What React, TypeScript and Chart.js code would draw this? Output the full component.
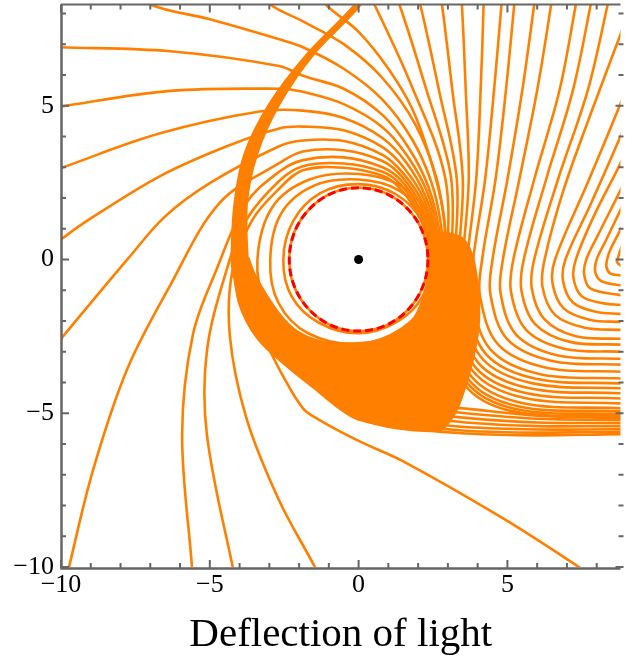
import React, { useEffect, useRef } from 'react';
import { Chart, registerables } from 'chart.js';

Chart.register(...registerables);

type Pt = [number, number];

const X_TICKS = [-10, -5, 0, 5];
const Y_TICKS = [-10, -5, 0, 5];
const X_MIN = -10;
const X_MAX = 8.8;
const Y_MIN = -10;
const Y_MAX = 8.29;
const HORIZON_R = 2.33;
const CENTER: Pt[] = [[0, 0]];
const TITLE = 'Deflection of light';

// arcs entering through the right edge above the hole, turning, leaving through it below
const rightEdgeArcs: Pt[][] = [
  [[9.0, 0.75], [8.8, 0.32], [8.7, 0.0], [8.68, -0.08], [8.75, -0.16], [8.8, -0.19], [9.2, -0.3]],
  [[9.05, 1.5], [8.8, 0.97], [8.45, 0.3], [8.35, 0], [8.33, -0.25], [8.45, -0.45], [8.8, -0.52], [9.2, -0.57]],
  [[9.1, 2.2], [8.8, 1.61], [8.3, 0.6], [8.0, 0], [7.95, -0.4], [8.15, -0.7], [8.8, -0.84], [9.2, -0.88]],
  [[9.1, 2.9], [8.8, 2.26], [8.1, 0.9], [7.65, 0], [7.58, -0.5], [7.8, -0.95], [8.8, -1.16], [9.2, -1.2]],
  [[9.1, 3.8], [8.8, 3.13], [7.9, 1.4], [7.3, 0], [7.22, -0.6], [7.5, -1.2], [8.2, -1.42], [8.8, -1.48], [9.2, -1.51]],
  [[9.05, 4.6], [8.8, 4.0], [7.8, 1.8], [6.95, 0], [6.87, -0.7], [7.2, -1.4], [8.0, -1.71], [8.8, -1.77], [9.2, -1.8]],
  [[9.05, 5.7], [8.8, 5.06], [7.7, 2.5], [6.6, 0], [6.52, -0.8], [6.9, -1.6], [7.8, -1.97], [8.8, -2.03], [9.2, -2.06]],
  [[9.0, 7.9], [8.8, 7.32], [7.9, 5.0], [6.9, 2.3], [6.25, 0], [6.18, -0.9], [6.6, -1.8], [7.6, -2.22], [8.8, -2.29], [9.2, -2.32]],
];

// arcs entering through the top edge, passing right of the hole, leaving through the right edge
const topArcs: Pt[][] = [
  [[8.45, 8.7], [8.37, 8.29], [7.7, 5.5], [6.7, 2.6], [5.9, 0], [5.82, -0.95], [6.25, -1.95], [7.3, -2.5], [8.8, -2.58], [9.2, -2.6]],
  [[7.87, 8.7], [7.8, 8.29], [7.2, 5.5], [6.3, 2.6], [5.55, 0], [5.47, -1.0], [5.93, -2.1], [7.1, -2.68], [8.8, -2.77], [9.2, -2.79]],
  [[7.37, 8.7], [7.3, 8.29], [6.75, 5.5], [5.9, 2.6], [5.2, 0], [5.12, -1.05], [5.62, -2.28], [6.9, -2.9], [8.8, -3.0], [9.2, -3.02]],
  [[6.52, 8.7], [6.47, 8.29], [6.0, 5.5], [5.4, 2.6], [4.85, 0], [4.77, -1.1], [5.3, -2.45], [6.7, -3.12], [8.8, -3.23], [9.2, -3.25]],
  [[5.95, 8.7], [5.9, 8.29], [5.5, 5.5], [5.0, 2.6], [4.5, 0], [4.43, -1.15], [5.0, -2.6], [6.5, -3.3], [8.8, -3.42], [9.2, -3.44]],
  [[5.27, 8.7], [5.23, 8.29], [4.95, 5.5], [4.6, 2.6], [4.15, 0], [4.08, -1.2], [4.7, -2.78], [6.3, -3.52], [8.8, -3.65], [9.2, -3.67]],
  [[4.83, 8.7], [4.8, 8.29], [4.55, 5.5], [4.25, 2.6], [3.85, 0], [3.8, -1.25], [4.45, -2.95], [6.1, -3.73], [8.8, -3.87], [9.2, -3.89]],
  [[4.2, 8.7], [4.2, 8.29], [4.1, 5.5], [3.95, 2.6], [3.65, 0], [3.6, -1.3], [4.28, -3.08], [5.95, -3.88], [8.8, -4.03], [9.2, -4.05]],
  [[3.42, 8.7], [3.47, 8.29], [3.6, 5.5], [3.7, 2.6], [3.5, 0], [3.45, -1.35], [4.15, -3.22], [5.85, -4.03], [8.8, -4.19], [9.2, -4.21]],
  [[2.7, 8.7], [2.8, 8.29], [3.15, 5.5], [3.5, 2.6], [3.35, 0], [3.3, -1.4], [4.02, -3.36], [5.75, -4.19], [8.8, -4.35], [9.2, -4.37]],
  [[1.9, 8.7], [2.07, 8.29], [2.7, 5.5], [3.3, 2.6], [3.23, 0], [3.18, -1.45], [3.92, -3.5], [5.65, -4.35], [8.8, -4.52], [9.2, -4.54]],
  [[1.15, 8.7], [1.37, 8.29], [2.25, 5.6], [3.1, 2.7], [3.12, 0], [3.07, -1.5], [3.83, -3.62], [5.55, -4.5], [8.8, -4.68], [9.2, -4.7]],
  [[0.25, 8.7], [0.53, 8.29], [1.8, 5.6], [2.9, 2.7], [3.0, 0], [2.95, -1.55], [3.74, -3.75], [5.45, -4.66], [8.8, -4.84], [9.2, -4.86]],
];

// rays from the left, top-left and bottom that sweep over the top of the hole
const sweptRays: Pt[][] = [
  [[-1.3, 8.7], [-1.1, 8.29], [0, 7.4], [1.0, 6.2], [1.8, 4.9], [2.4, 3.3], [2.85, 1.5], [2.95, 0], [2.9, -1.6], [3.66, -3.86], [5.35, -4.77], [8.8, -4.94], [9.2, -4.96]],
  [[-3.2, 8.7], [-2.97, 8.29], [-1.87, 7.74], [-0.5, 7.0], [0.8, 5.9], [1.9, 4.4], [2.6, 2.7], [2.88, 1.2], [2.9, 0], [2.85, -1.65], [3.6, -3.95], [5.28, -4.86], [8.8, -5.03], [9.2, -5.05]],
  [[-7.2, 8.7], [-7, 8.29], [-5, 7.81], [-2.67, 7.16], [-1.87, 6.9], [-0.5, 6.2], [0.8, 5.2], [1.8, 3.9], [2.45, 2.5], [2.77, 1.1], [2.82, 0], [2.77, -1.7], [3.53, -4.03], [5.2, -4.94], [8.8, -5.1], [9.2, -5.12]],
  [[-10.3, 6.9], [-10, 6.9], [-6.33, 6.77], [-2.67, 6.29], [-1.87, 5.97], [-0.5, 5.55], [0.8, 4.7], [1.7, 3.6], [2.35, 2.35], [2.7, 1.0], [2.75, 0], [2.7, -0.9], [2.37, -1.95], [1.45, -3.2], [0.5, -3.86], [0, -4.05], [-1.0, -3.88]],
  [[-10.3, 4.9], [-10, 4.97], [-6.33, 5.48], [-2.67, 5.55], [-1.87, 5.45], [-0.5, 5.05], [0.8, 4.3], [1.65, 3.35], [2.3, 2.2], [2.63, 0.95], [2.68, 0], [2.63, -0.9], [2.3, -1.9], [1.4, -3.1], [0.5, -3.72], [0, -3.9], [-1.0, -3.75]],
  [[-10.3, 2.85], [-10, 2.97], [-6.67, 4.1], [-3.33, 4.81], [-1.87, 4.84], [-0.5, 4.6], [0.8, 3.95], [1.6, 3.15], [2.25, 2.05], [2.57, 0.9], [2.62, 0], [2.57, -0.9], [2.25, -1.85], [1.35, -3.0], [0.5, -3.58], [0, -3.75], [-1.0, -3.62]],
  [[-10.3, 0.45], [-10, 0.65], [-9.23, 1.19], [-6.67, 2.71], [-4.43, 3.68], [-2.67, 4.26], [-1.87, 4.32], [-0.5, 4.2], [0.8, 3.65], [1.55, 2.95], [2.2, 1.95], [2.5, 0.85], [2.56, 0], [2.51, -0.9], [2.2, -1.8], [1.3, -2.9], [0.5, -3.44], [0, -3.6], [-1.0, -3.5]],
  [[-10.3, -2.95], [-10, -2.58], [-7.77, 0], [-6.5, 1.4], [-5, 2.48], [-2.67, 3.68], [-1.87, 3.87], [-0.5, 3.85], [0.8, 3.4], [1.5, 2.8], [2.15, 1.85], [2.45, 0.8], [2.5, 0], [2.45, -0.9], [2.15, -1.75], [1.25, -2.8], [0.5, -3.3], [0, -3.45], [-1.0, -3.37]],
  [[-9.8, -10.4], [-9.73, -10], [-8.9, -6.77], [-7.77, -3.55], [-6.33, -0.84], [-4.67, 1.84], [-2.67, 3.13], [-1.87, 3.51], [-0.5, 3.55], [0.8, 3.2], [1.45, 2.7], [2.1, 1.75], [2.4, 0.75], [2.45, 0], [2.4, -0.9], [2.1, -1.7], [1.2, -2.72], [0.5, -3.16], [0, -3.3], [-1.0, -3.25]],
  [[-5.58, -10.4], [-5.6, -10], [-5.93, -5.68], [-5.57, -2.45], [-4.77, -0.32], [-3.77, 1.84], [-2.67, 2.85], [-1.87, 3.23], [-0.5, 3.32], [0.8, 3.0], [1.45, 2.55], [2.05, 1.65], [2.37, 0.7], [2.42, 0], [2.35, -1.0], [2.0, -2.0], [1.2, -2.75], [0, -3.05], [-1.0, -2.95]],
  [[-4.1, -10.4], [-4.23, -10], [-5.1, -5.68], [-5.1, -3.0], [-4.43, -0.32], [-3.77, 1.29], [-2.67, 2.55], [-1.87, 3.03], [-0.5, 3.12], [0.8, 2.85], [1.4, 2.45], [2.0, 1.6], [2.35, 0.68], [2.4, 0], [2.32, -0.95], [1.95, -1.95], [1.15, -2.68], [0, -2.95], [-1.0, -2.87]],
  [[-1.3, -10.4], [-1.47, -10], [-2.67, -7.84], [-3.77, -5.16], [-4.33, -2.45], [-4.23, -0.32], [-3.57, 1.29], [-2.67, 2.3], [-1.87, 2.9], [-0.5, 2.98], [0.8, 2.72], [1.35, 2.35], [1.95, 1.55], [2.33, 0.66], [2.38, 0], [2.3, -0.9], [1.9, -1.9], [1.1, -2.6], [0, -2.85], [-1.0, -2.8]],
];

// rings that circle the hole closely
const rings: Pt[][] = [
  [[2.45, 0], [2.15, 1.22], [1.25, 2.12], [0, 2.45], [-1.3, 2.15], [-2.2, 1.25], [-2.53, 0], [-2.25, -1.2], [-1.35, -2.05], [0, -2.4], [1.3, -2.02], [2.15, -1.2], [2.45, 0]],
  [[2.6, 0], [2.3, 1.3], [1.35, 2.25], [0, 2.6], [-1.5, 2.4], [-2.6, 1.5], [-2.97, 0], [-2.7, -1.4], [-1.7, -2.4], [0, -2.75], [1.45, -2.25], [2.35, -1.25], [2.6, 0]],
  [[2.7, 0], [2.4, 1.38], [1.45, 2.38], [0, 2.78], [-1.65, 2.6], [-2.9, 1.7], [-3.4, 0], [-3.1, -1.45], [-2.05, -2.45], [0, -2.88], [1.55, -2.4], [2.45, -1.3], [2.7, 0]],
];

// rays of the bundle: low on the right edge, under the hole, up the caustic
const bundleRays: Pt[][] = [
  [[9.2, -5.18], [8.8, -5.16], [6.0, -5.08], [3.6, -4.85], [1.8, -4.68], [0, -4.5], [-0.8, -4.1]],
  [[9.2, -5.24], [8.8, -5.22], [6.0, -5.18], [3.6, -5.0], [1.8, -4.8], [0, -4.6], [-0.8, -4.2]],
  [[9.2, -5.34], [8.8, -5.32], [6.0, -5.3], [3.6, -5.15], [1.8, -4.95], [0, -4.72], [-0.8, -4.3]],
  [[9.2, -5.44], [8.8, -5.42], [6.0, -5.42], [3.6, -5.3], [1.8, -5.1], [0, -4.85], [-0.8, -4.4]],
  [[9.2, -5.54], [8.8, -5.52], [6.0, -5.53], [3.6, -5.45], [1.8, -5.25], [0, -4.97], [-0.8, -4.5]],
  [[9.2, -5.62], [8.8, -5.6], [6.0, -5.63], [3.6, -5.57], [1.8, -5.4], [0, -5.1], [-0.8, -4.62]],
  [[9.2, -5.7], [8.8, -5.68], [6.0, -5.72], [3.6, -5.66], [1.8, -5.5], [0, -5.2], [-0.7, -4.8], [-1.53, -4.15], [-2.37, -3.5], [-3.4, -2.55], [-4.0, -1.4], [-4.22, 0], [-4.13, 1.84], [-3.8, 3.45], [-2.97, 5.06], [-1.7, 6.68], [-0.11, 8.29], [0.1, 8.7]],
];

// ray leaving the bundle towards the lower right
const escapeRays: Pt[][] = [
  [[-3.9, -0.6], [-3.7, -1.39], [-3.2, -2.52], [-2.53, -3.81], [-1.87, -4.84], [-1.37, -5.19], [0, -5.9], [1.47, -6.55], [4.8, -8.39], [7.4, -10], [7.9, -10.35]],
];

// solid caustic along the left side
const causticBand: Pt[] = [
  [-4.2, -0.6], [-4.27, 0], [-4.17, 1.84], [-3.83, 3.45], [-3.0, 5.06], [-1.73, 6.68], [-0.13, 8.29], [-0.1, 8.7],
  [0.12, 8.7], [0.08, 8.29], [-1.5, 6.68], [-2.65, 5.06], [-3.4, 3.45], [-3.75, 1.84], [-3.72, 0], [-3.6, -0.4],
];

// solid bundle under the hole and dense throat right of it
const bundleCore: Pt[] = [
  [-4.17, -0.16], [-4.03, -1.39], [-3.43, -2.52], [-2.37, -3.48], [-1.53, -4.13], [-0.7, -4.77], [0, -5.19],
  [1.3, -5.5], [2.6, -5.58], [2.9, -5.45], [3.3, -4.9], [3.6, -4.1], [3.9, -3.0], [4.05, -2.0], [4.0, -0.8],
  [3.8, 0.2], [3.4, 0.75], [2.42, 0.8], [2.4, -0.4], [2.2, -1.2], [1.75, -2.05], [0.9, -2.55], [0.2, -2.7],
  [-1.03, -2.7], [-2.03, -2.35], [-2.7, -1.71], [-3.47, -0.52], [-3.7, 0.06],
];

const ORANGE = '#ff8000';
const AXIS = '#666666';
const FONT = "'Liberation Serif', 'Times New Roman', serif";

const fmt = (v: number) => (v < 0 ? '\u2212' + Math.abs(v) : String(v));
const toXY = (pts: Pt[]) => pts.map(([x, y]) => ({ x, y }));

export default function App() {
  const ref = useRef<HTMLCanvasElement | null>(null);

  useEffect(() => {
    if (!ref.current) return;
    const lineDs = (pts: Pt[]) => ({
      data: toXY(pts),
      borderColor: ORANGE,
      borderWidth: 2.6,
      pointRadius: 0,
      tension: 0.35,
      fill: false,
    });
    const fillDs = (pts: Pt[]) => ({
      data: toXY(pts),
      borderColor: ORANGE,
      backgroundColor: ORANGE,
      borderWidth: 2,
      pointRadius: 0,
      tension: 0.3,
      fill: 'shape',
    });
    const datasets: any[] = [
      fillDs(causticBand),
      fillDs(bundleCore),
      ...rightEdgeArcs.map(lineDs),
      ...topArcs.map(lineDs),
      ...sweptRays.map(lineDs),
      ...rings.map(lineDs),
      ...bundleRays.map(lineDs),
      ...escapeRays.map(lineDs),
      {
        data: toXY(CENTER),
        showLine: false,
        pointRadius: 4.5,
        pointBackgroundColor: '#000',
        pointBorderColor: '#000',
        borderWidth: 0,
      },
    ];

    const horizonPlugin = {
      id: 'horizon',
      afterDatasetsDraw(chart: any) {
        const { ctx, scales } = chart;
        const xs = scales.x;
        const ys = scales.y;
        const cx = xs.getPixelForValue(CENTER[0][0]);
        const cy = ys.getPixelForValue(CENTER[0][1]);
        const rx = Math.abs(xs.getPixelForValue(CENTER[0][0] + HORIZON_R) - cx);
        const ry = Math.abs(ys.getPixelForValue(CENTER[0][1] + HORIZON_R) - cy);
        ctx.save();
        ctx.beginPath();
        ctx.ellipse(cx, cy, rx, ry, 0, 0, Math.PI * 2);
        ctx.strokeStyle = ORANGE;
        ctx.lineWidth = 2.6;
        ctx.stroke();
        ctx.beginPath();
        ctx.ellipse(cx, cy, rx, ry, 0, 0, Math.PI * 2);
        ctx.setLineDash([8, 4]);
        ctx.strokeStyle = '#ff0000';
        ctx.lineWidth = 3;
        ctx.stroke();
        ctx.restore();
      },
    };

    const framePlugin = {
      id: 'frame',
      afterDraw(chart: any) {
        const { ctx, chartArea: a, scales } = chart;
        const xs = scales.x;
        const ys = scales.y;
        ctx.save();
        ctx.strokeStyle = AXIS;
        ctx.lineWidth = 2.5;
        ctx.beginPath();
        ctx.moveTo(a.left + 0.5, a.top);
        ctx.lineTo(a.left + 0.5, a.bottom + 1.5);
        ctx.lineTo(a.right, a.bottom + 1.5);
        ctx.stroke();
        ctx.lineWidth = 2;
        ctx.beginPath();
        ctx.moveTo(a.left, a.top);
        ctx.lineTo(a.right, a.top);
        ctx.stroke();
        for (let v = -10; v <= 8; v++) {
          const len = v % 5 === 0 ? 8 : 5;
          const px = xs.getPixelForValue(v);
          ctx.beginPath();
          ctx.moveTo(px, a.bottom + 1);
          ctx.lineTo(px, a.bottom + 1 - len);
          ctx.moveTo(px, a.top);
          ctx.lineTo(px, a.top + len);
          ctx.stroke();
          const py = ys.getPixelForValue(v);
          ctx.beginPath();
          ctx.moveTo(a.left, py);
          ctx.lineTo(a.left + len, py);
          ctx.moveTo(a.right + 3, py);
          ctx.lineTo(a.right + 3 - len, py);
          ctx.stroke();
        }
        ctx.restore();
      },
    };

    const chart = new Chart(ref.current, {
      type: 'line',
      data: { datasets },
      plugins: [horizonPlugin, framePlugin],
      options: {
        animation: false,
        responsive: false,
        devicePixelRatio: 1,
        events: [],
        layout: { padding: 0 },
        elements: { line: { capBezierPoints: false } },
        plugins: { legend: { display: false }, tooltip: { enabled: false }, title: { display: false } },
        scales: {
          x: {
            type: 'linear',
            position: 'bottom',
            min: X_MIN,
            max: X_MAX,
            grid: { display: false, drawTicks: false },
            border: { display: false },
            afterBuildTicks: (s: any) => {
              s.ticks = X_TICKS.map((value) => ({ value }));
            },
            afterFit: (s: any) => {
              s.height = 96;
              s.paddingLeft = 0;
              s.paddingRight = 0;
            },
            ticks: {
              callback: (v: any) => fmt(Number(v)),
              color: '#000',
              font: { family: FONT, size: 26 },
              padding: 3,
              maxRotation: 0,
              autoSkip: false,
            },
            title: {
              display: true,
              text: TITLE,
              color: '#000',
              font: { family: FONT, size: 41 },
              padding: { top: 0, bottom: 3 },
            },
          },
          y: {
            type: 'linear',
            position: 'left',
            min: Y_MIN,
            max: Y_MAX,
            grid: { display: false, drawTicks: false },
            border: { display: false },
            afterBuildTicks: (s: any) => {
              s.ticks = Y_TICKS.map((value) => ({ value }));
            },
            afterFit: (s: any) => {
              s.width = 61;
              s.paddingTop = 0;
              s.paddingBottom = 0;
            },
            ticks: {
              callback: (v: any) => fmt(Number(v)),
              color: '#000',
              font: { family: FONT, size: 26 },
              padding: 7,
              autoSkip: false,
            },
          },
        },
      } as any,
    });
    return () => chart.destroy();
  }, []);

  return (
    <div style={{ position: 'absolute', left: 0, top: 0, width: 625, height: 663, background: '#fff' }}>
      <canvas ref={ref} width={625} height={663} style={{ width: 625, height: 663, display: 'block' }} />
    </div>
  );
}
